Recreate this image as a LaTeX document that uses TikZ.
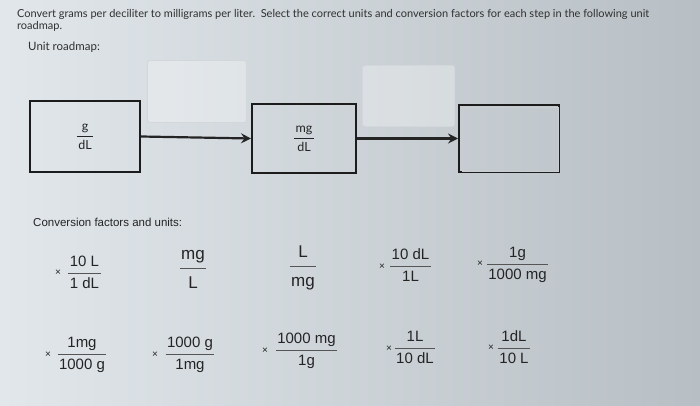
\documentclass[tikz,border=0pt]{standalone}
\usepackage{fontspec}
\setmainfont{Lato}
\newfontfamily\arialf{Liberation Sans}
\usepackage{colortbl}
\usetikzlibrary{arrows.meta}
\definecolor{bgL}{HTML}{E1E7EB}
\definecolor{bgM}{HTML}{E9EDF0}
\definecolor{bgR}{HTML}{B8BFC4}
\definecolor{ink}{HTML}{242424}
\definecolor{hdrink}{HTML}{303030}
\definecolor{boxline}{HTML}{1C1C1C}
\definecolor{emptyline}{HTML}{D2D7DB}
\definecolor{innerc}{HTML}{C9CED2}
\definecolor{barc}{HTML}{555555}
\setlength{\arrayrulewidth}{0.9pt}
\newcommand{\myfr}[3][1.2]{\renewcommand{\arraystretch}{#1}\begin{tabular}{@{\hspace{1.5pt}}c@{\hspace{1.5pt}}}#2\\\hline #3\end{tabular}}
\begin{document}
\begin{tikzpicture}[x=1pt,y=-1pt,
  hdr/.style={inner sep=0pt, text=hdrink, font=\fontsize{11}{13}\selectfont},
  unitbox/.style={draw=boxline, line width=2pt, inner sep=0pt, text=ink,
    font=\fontsize{12.5}{14}\selectfont,
    execute at begin node={\arrayrulecolor{ink}}},
  emptybox/.style={draw=emptyline, line width=0.8pt, rounded corners=2.5pt,
    fill=white, fill opacity=0.3, draw opacity=1, inner sep=0pt},
  innerline/.style={draw=innerc, line width=1pt},
  arr/.style={draw=ink, line width=2.2pt, -{Stealth[length=10pt,width=10pt,inset=3.5pt]}},
  fr/.style={inner sep=0pt, text=ink, font=\arialf\fontsize{15}{18}\selectfont,
    execute at begin node={\arrayrulecolor{barc}}},
  frbig/.style={fr, font=\arialf\fontsize{17}{20}\selectfont},
  timesnode/.style={inner sep=0pt, text=ink, font=\arialf\fontsize{10}{11}\selectfont}
]
\useasboundingbox (0,0) rectangle (700,406);
\shade[left color=bgL, middle color=bgM, right color=bgR] (0,0) rectangle (700,406);

% header
\node[hdr, anchor=base west] (title1) at (17,17.5)
  {Convert grams per deciliter to milligrams per liter.\ \ Select the correct units and conversion factors for each step in the following unit};
\node[hdr, anchor=base west] (title2) at (17,29.5) {roadmap.};
\node[hdr, anchor=base west, font=\fontsize{11.5}{13}\selectfont] (roadmap) at (28,51) {Unit roadmap:};

% roadmap
\node[emptybox, minimum width=99pt, minimum height=62pt] (e1) at (197,91.5) {};
\node[emptybox, minimum width=92pt, minimum height=61pt] (e2) at (408.5,96) {};
\node[unitbox, minimum width=110pt, minimum height=71pt] (b1) at (85,136.5)
  {\myfr[1.3]{g}{dL}};
\node[unitbox, minimum width=104pt, minimum height=69pt] (b2) at (304,138.5)
  {\myfr[1.3]{mg}{dL}};
\node[unitbox, minimum width=100pt, minimum height=67pt] (b3) at (509,138.5) {};
\draw[innerline] ([xshift=4pt,yshift=-4pt]b3.north west) rectangle ([xshift=-2pt,yshift=2pt]b3.south east);
\draw[arr] (b1.east) -- (b2.west);
\draw[arr] (b2.east) -- (b3.west);

% conversion factors
\node[anchor=base west, inner sep=0pt, text=ink, font=\arialf\fontsize{11.5}{13}\selectfont] (conv) at (33,226) {Conversion factors and units:};

\node[fr] (f1) at (84.5,273) {\myfr{10 L}{1 dL}};
\node[timesnode] (x1) at (58,273) {×};
\node[frbig] (f2) at (193,268) {\myfr[1.4]{mg}{L}};
\node[frbig] (f3) at (303,266) {\myfr[1.4]{L}{mg}};
\node[fr] (f4) at (410.5,266) {\myfr{10 dL}{1L}};
\node[timesnode] (x4) at (382,267) {×};
\node[fr] (f5) at (517.5,264) {\myfr{1g}{1000 mg}};
\node[timesnode] (x5) at (480,264) {×};

\node[fr] (f6) at (82,354) {\myfr{1mg}{1000 g}};
\node[timesnode] (x6) at (48,355) {×};
\node[fr] (f7) at (190,354) {\myfr{1000 g}{1mg}};
\node[timesnode] (x7) at (155,355) {×};
\node[fr] (f8) at (306.5,350) {\myfr{1000 mg}{1g}};
\node[timesnode] (x8) at (265,351) {×};
\node[fr] (f9) at (415,348) {\myfr{1L}{10 dL}};
\node[timesnode] (x9) at (389,349) {×};
\node[fr] (f10) at (514,348) {\myfr{1dL}{10 L}};
\node[timesnode] (x10) at (491,348) {×};
\end{tikzpicture}
\end{document}
